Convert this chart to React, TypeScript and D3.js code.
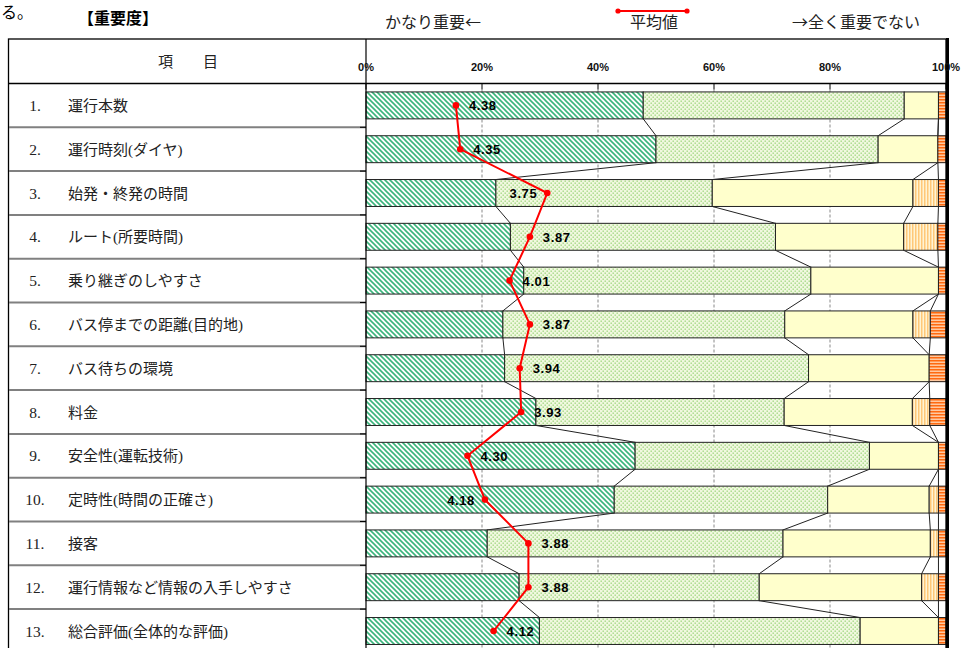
import React from "react";
import * as d3 from "d3";

const categories = [
  "運行本数",
  "運行時刻(ダイヤ)",
  "始発・終発の時間",
  "ルート(所要時間)",
  "乗り継ぎのしやすさ",
  "バス停までの距離(目的地)",
  "バス待ちの環境",
  "料金",
  "安全性(運転技術)",
  "定時性(時間の正確さ)",
  "接客",
  "運行情報など情報の入手しやすさ",
  "総合評価(全体的な評価)",
];
const veryImportant = [47.8, 50.0, 22.4, 24.9, 27.2, 23.6, 23.9, 29.3, 46.4, 42.8, 20.9, 26.4, 29.9];
const somewhatImportant = [45.0, 38.3, 37.3, 45.7, 49.5, 48.6, 52.4, 42.8, 40.4, 36.8, 51.0, 41.4, 55.3];
const neutral = [5.9, 10.3, 34.6, 22.1, 22.0, 22.1, 20.8, 22.1, 11.9, 17.5, 25.4, 28.0, 13.5];
const notVery = [0, 0, 4.4, 5.9, 0, 3.0, 0, 3.0, 0, 1.6, 1.4, 2.9, 0];
const notAtAll = [1.3, 1.4, 1.3, 1.4, 1.3, 2.7, 2.9, 2.8, 1.3, 1.3, 1.3, 1.3, 1.3];
const means = [4.38, 4.35, 3.75, 3.87, 4.01, 3.87, 3.94, 3.93, 4.30, 4.18, 3.88, 3.88, 4.12];
const labelSide = ["r", "r", "l", "r", "r", "r", "r", "r", "r", "l", "r", "r", "r"];
const xTicks = [0, 20, 40, 60, 80, 100];
const seriesKeys = ["s0", "s1", "s2", "s3", "s4"];
const fills = ["url(#pHatch)", "url(#pDots)", "#ffffcc", "url(#pVert)", "url(#pHoriz)"];

const W = 965;
const H = 648;
const X0 = 366;
const X1 = 946;
const HEADER_TOP = 39;
const HEADER_BOTTOM = 83.5;
const ROW_H = 43.8;

export default function App() {
  const x = d3.scaleLinear().domain([0, 100]).range([X0, X1]);
  const xMean = d3.scaleLinear().domain([5, 1]).range([X0, X1]);
  const yBottom = HEADER_BOTTOM + ROW_H * categories.length;
  const y = d3
    .scaleBand<string>()
    .domain(categories)
    .range([HEADER_BOTTOM, yBottom])
    .paddingInner(0.385)
    .paddingOuter(0.1925);
  const bw = y.bandwidth();

  const table = categories.map((c, i) => ({
    cat: c,
    s0: veryImportant[i],
    s1: somewhatImportant[i],
    s2: neutral[i],
    s3: notVery[i],
    s4: notAtAll[i],
  }));
  const stacked = d3.stack<any>().keys(seriesKeys)(table);

  const meanLine = d3
    .line<number>()
    .x((m) => xMean(m))
    .y((_, i) => (y(categories[i]) as number) + bw / 2);

  const jp = "'Liberation Serif', 'Noto Sans CJK JP', serif";
  const cjk = "'Noto Sans CJK JP', sans-serif";
  const rowBoundaries = d3.range(1, categories.length + 1).map((k) => HEADER_BOTTOM + k * ROW_H);

  return (
    <svg
      width={W}
      height={H}
      style={{ position: "absolute", left: 0, top: 0, background: "#fff" }}
    >
      <defs>
        <pattern id="pHatch" patternUnits="userSpaceOnUse" width={5} height={5}>
          <rect width={5} height={5} fill="#ffffff" />
          <path d="M-1,-1 L6,6 M-1,4 L1,6 M4,-1 L6,1" stroke="#3bb57c" strokeWidth={1.6} />
        </pattern>
        <pattern id="pDots" patternUnits="userSpaceOnUse" width={4} height={4}>
          <rect width={4} height={4} fill="#f1f8df" />
          <rect x={0.5} y={0.5} width={1.4} height={1.4} fill="#a2d883" />
          <rect x={2.5} y={2.5} width={1.4} height={1.4} fill="#a2d883" />
        </pattern>
        <pattern id="pVert" patternUnits="userSpaceOnUse" width={3} height={3}>
          <rect width={3} height={3} fill="#fff4d4" />
          <rect x={0} y={0} width={1.5} height={3} fill="#ffc878" />
        </pattern>
        <pattern id="pHoriz" patternUnits="userSpaceOnUse" width={3} height={3}>
          <rect width={3} height={3} fill="#ffc9a0" />
          <rect x={0} y={0} width={3} height={1.5} fill="#ff6a10" />
        </pattern>
      </defs>

      {/* top text fragment */}
      <text x={1} y={18} fontSize={16} fontFamily={cjk}>る。</text>
      <text x={78} y={24} fontSize={16} fontWeight="bold" fontFamily={cjk}>
        【重要度】
      </text>

      {/* legend */}
      <text x={385} y={28} fontSize={16} fontFamily={cjk} fill="#222">かなり重要←</text>
      <line x1={618} x2={687} y1={11} y2={11} stroke="#ff0000" strokeWidth={2.2} />
      <circle cx={618} cy={11} r={2.6} fill="#ff0000" />
      <circle cx={687} cy={11} r={2.6} fill="#ff0000" />
      <text x={654} y={28} fontSize={16} textAnchor="middle" fontFamily={cjk} fill="#222">平均値</text>
      <text x={792} y={28} fontSize={16} fontFamily={cjk} fill="#222">→全く重要でない</text>

      {/* gridlines */}
      {xTicks.slice(1, -1).map((t) => (
        <line
          key={"g" + t}
          x1={x(t)}
          x2={x(t)}
          y1={HEADER_BOTTOM + 6}
          y2={H}
          stroke="#888"
          strokeWidth={1}
          strokeDasharray="3,2"
        />
      ))}

      {/* series lines */}
      {stacked.slice(0, 4).map((layer, k) =>
        layer.slice(0, -1).map((d, i) => {
          const next = layer[i + 1];
          return (
            <line
              key={"sl" + k + "-" + i}
              x1={x(d[1])}
              y1={(y(categories[i]) as number) + bw}
              x2={x(next[1])}
              y2={y(categories[i + 1]) as number}
              stroke="#222"
              strokeWidth={1}
            />
          );
        })
      )}

      {/* bars */}
      {stacked.map((layer, k) =>
        layer.map((d, i) =>
          d[1] - d[0] > 0 ? (
            <rect
              key={"b" + k + "-" + i}
              x={x(d[0])}
              y={y(categories[i])}
              width={x(d[1]) - x(d[0])}
              height={bw}
              fill={fills[k]}
              stroke="#222"
              strokeWidth={1}
            />
          ) : null
        )
      )}

      {/* table */}
      <rect x={8.5} y={HEADER_TOP} width={X1 - 8.5} height={H} fill="none" stroke="#000" strokeWidth={1.3} />
      <line x1={8} x2={X1} y1={HEADER_BOTTOM} y2={HEADER_BOTTOM} stroke="#000" strokeWidth={1.3} />
      {rowBoundaries.map((yy, i) => (
        <line key={"rb" + i} x1={9} x2={X0} y1={yy} y2={yy} stroke="#808080" strokeWidth={2} />
      ))}
      <line x1={X0} x2={X0} y1={HEADER_TOP} y2={H} stroke="#000" strokeWidth={1.2} />
      {rowBoundaries.map((yy, i) => (
        <line key={"ct" + i} x1={X0 - 6} x2={X0} y1={yy} y2={yy} stroke="#000" strokeWidth={1} />
      ))}
      <line x1={X1 + 1.5} x2={X1 + 1.5} y1={HEADER_TOP - 1} y2={H} stroke="#000" strokeWidth={3} />

      <text x={188} y={67} fontSize={15} textAnchor="middle" fontFamily={jp} fill="#222">
        項　　目
      </text>
      {categories.map((c, i) => {
        const cy = (y(c) as number) + bw / 2;
        return (
          <g key={"lab" + i}>
            <text x={35} y={cy + 5.5} fontSize={15.5} textAnchor="middle" fontFamily={jp} fill="#222">
              {i + 1 + "."}
            </text>
            <text x={68} y={cy + 5.5} fontSize={15} fontFamily={jp} fill="#222">
              {c}
            </text>
          </g>
        );
      })}

      {/* value axis */}
      {xTicks.map((t) => (
        <g key={"t" + t}>
          <line x1={x(t)} x2={x(t)} y1={HEADER_BOTTOM} y2={HEADER_BOTTOM + 6} stroke="#000" strokeWidth={1} />
          <text
            x={x(t)}
            y={71}
            fontSize={11}
            fontWeight="bold"
            textAnchor="middle"
            fontFamily="'Liberation Sans Narrow', 'Liberation Sans', sans-serif"
            fill="#111"
          >
            {t + "%"}
          </text>
        </g>
      ))}

      {/* mean line */}
      <path d={meanLine(means) as string} fill="none" stroke="#ff0000" strokeWidth={2} />
      {means.map((m, i) => {
        const cx = xMean(m);
        const cy = (y(categories[i]) as number) + bw / 2;
        const right = labelSide[i] === "r";
        return (
          <g key={"m" + i}>
            <circle cx={cx} cy={cy} r={3.3} fill="#ff0000" />
            <text
              x={right ? cx + 13 : cx - 10}
              y={cy + 5}
              fontSize={13}
              fontWeight="bold"
              letterSpacing={0.6}
              textAnchor={right ? "start" : "end"}
              fontFamily="'Liberation Sans', sans-serif"
              fill="#000"
            >
              {m.toFixed(2)}
            </text>
          </g>
        );
      })}
    </svg>
  );
}
